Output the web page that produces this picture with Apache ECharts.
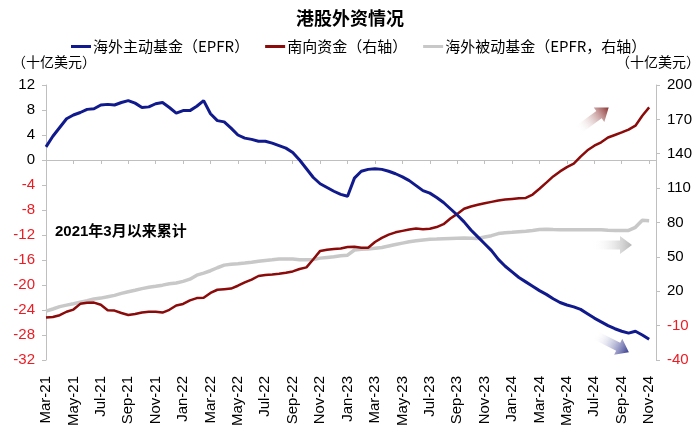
<!DOCTYPE html>
<html>
<head>
<meta charset="utf-8">
<title>港股外资情况</title>
<script src="https://cdn.jsdelivr.net/npm/echarts@6/dist/echarts.min.js"></script>
<style>
  html, body { margin: 0; padding: 0; background: #fff; }
  #main { width: 700px; height: 429px; }
</style>
</head>
<body>
<div id="main"></div>
<script>
// half-month points, 2021-03-01 .. 2024-11-15
var monthNames = ['Jan','Feb','Mar','Apr','May','Jun','Jul','Aug','Sep','Oct','Nov','Dec'];
var dates = [];
for (var m = 2; m <= 2 + 44; m++) {
  var y = 2021 + Math.floor(m / 12), mm = m % 12;
  dates.push(monthNames[mm] + '-' + String(y).slice(2) + '|01');
  dates.push(monthNames[mm] + '-' + String(y).slice(2) + '|15');
}
dates = dates.slice(0, 90);

// 海外主动基金（EPFR）, left axis
var activeFunds = [
  2.1, 3.8, 5.2, 6.6, 7.2, 7.6, 8.1, 8.2, 8.8, 8.9,
  8.8, 9.2, 9.5, 9.1, 8.4, 8.5, 9.0, 9.2, 8.4, 7.5,
  7.9, 7.9, 8.6, 9.5, 7.4, 6.3, 6.1, 5.1, 4.0, 3.5,
  3.3, 3.0, 3.0, 2.7, 2.3, 1.9, 1.2, 0.0, -1.4, -2.8,
  -3.8, -4.4, -5.0, -5.5, -5.8, -2.9, -1.8, -1.5, -1.4, -1.5,
  -1.8, -2.2, -2.7, -3.3, -4.1, -4.9, -5.3, -6.0, -6.8, -7.8,
  -8.8, -9.9, -11.2, -12.3, -13.4, -14.5, -15.9, -17.0, -17.9, -18.8,
  -19.5, -20.2, -20.9, -21.5, -22.2, -22.8, -23.2, -23.5, -23.9, -24.6,
  -25.3, -25.9, -26.5, -27.0, -27.4, -27.7, -27.4, -28.0, -28.7, null
];

// 南向资金（右轴）
var southbound = [
  -3.0, -2.5, -0.9, 2.1, 4.0, 9.0, 10.0, 10.1, 8.2, 3.5,
  3.1, 1.0, -0.7, 0.2, 1.5, 2.1, 2.1, 1.4, 3.8, 7.6,
  8.9, 12.0, 14.0, 14.3, 18.5, 21.3, 21.8, 22.3, 24.8, 27.7,
  30.2, 33.3, 34.2, 34.6, 35.2, 36.1, 37.3, 39.4, 40.8, 47.9,
  55.2, 56.2, 56.8, 57.3, 58.6, 58.8, 58.0, 58.0, 63.0, 66.6,
  69.4, 71.4, 72.7, 73.8, 74.7, 74.2, 74.6, 76.0, 78.5, 83.5,
  87.5, 92.0, 94.0, 95.5, 96.8, 98.0, 99.2, 100.0, 100.6, 101.2,
  101.4, 104.4, 109.5, 114.8, 120.2, 124.6, 128.3, 131.3, 137.5, 143.0,
  147.0, 150.0, 154.2, 156.4, 158.6, 161.1, 164.5, 173.2, 180.5, null
];

// 海外被动基金（EPFR，右轴）
var passiveFunds = [
  2.6, 4.5, 6.6, 7.9, 9.1, 10.4, 11.7, 13.3, 14.0, 15.2,
  16.4, 18.1, 19.6, 20.8, 22.3, 23.4, 24.3, 25.3, 26.6, 27.2,
  28.6, 30.5, 34.0, 35.8, 37.9, 40.5, 42.8, 43.5, 44.0, 44.6,
  45.3, 46.1, 46.8, 47.4, 48.1, 48.1, 48.1, 47.5, 47.4, 47.7,
  48.9, 49.5, 50.1, 50.9, 51.5, 56.0, 56.6, 56.8, 57.5, 58.2,
  59.5, 60.8, 62.0, 63.2, 64.0, 64.8, 65.3, 65.5, 65.9, 66.1,
  66.3, 66.5, 66.3, 66.0, 67.3, 68.5, 70.3, 71.0, 71.4, 71.9,
  72.4, 73.0, 73.8, 74.2, 73.9, 73.7, 73.7, 73.7, 73.7, 73.7,
  73.7, 73.6, 73.3, 73.1, 73.1, 73.1, 75.8, 82.0, 81.6, null
];

var leftTicks = { min: -32, max: 12, step: 4 };
var rightTicks = { min: -40, max: 200, step: 30 };

var RED = '#ec1c24';
var AXIS_GRAY = '#bfbfbf';

function arrow(x, y, rot, len, color) {
  var w = 9, H = 9, h = 12;
  return {
    type: 'polygon',
    x: x, y: y, rotation: rot,
    shape: { points: [[0, -w / 2], [len - h, -w / 2], [len - h, -H], [len, 0], [len - h, H], [len - h, w / 2], [0, w / 2]] },
    style: {
      fill: new echarts.graphic.LinearGradient(0, 0, 1, 0, [
        { offset: 0, color: 'rgba(255,255,255,0)' },
        { offset: 1, color: color }
      ])
    },
    z: 10
  };
}

var chart = echarts.init(document.getElementById('main'));
var option = {
  animation: false,
  textStyle: { fontFamily: '"Liberation Sans", "Noto Sans CJK SC", sans-serif' },
  title: {
    text: '港股外资情况',
    left: 'center', top: 9, padding: 0,
    textStyle: { fontSize: 18, fontWeight: 'bold', color: '#000', fontFamily: '"Noto Sans CJK SC"' }
  },
  legend: {
    top: 39, left: 71, padding: 0,
    itemWidth: 20, itemHeight: 3, itemGap: 16,
    icon: 'rect',
    textStyle: { fontSize: 15, color: '#000', fontFamily: '"Noto Sans CJK SC"', padding: [0, 0, 0, -3] },
    data: ['海外主动基金（EPFR）', '南向资金（右轴）', '海外被动基金（EPFR，右轴）']
  },
  grid: { left: 46, right: 44, top: 85, bottom: 62 },
  xAxis: [
    {
      type: 'category', data: dates, boundaryGap: false, position: 'bottom',
      axisLine: { show: false, onZero: false }, axisTick: { show: false },
      axisLabel: {
        rotate: 90, margin: 16, fontSize: 15, color: '#000',
        interval: function (i) { return i % 4 === 0; },
        formatter: function (v) { return v.split('|')[0]; }
      }
    },
    {
      type: 'category', data: dates, boundaryGap: false, position: 'bottom',
      axisLine: { show: true, onZero: true, onZeroAxisIndex: 0, lineStyle: { color: AXIS_GRAY, width: 1 } },
      axisTick: { show: true, length: 4, interval: function (i) { return i % 4 === 0; }, lineStyle: { color: AXIS_GRAY } },
      axisLabel: { show: false }
    }
  ],
  yAxis: [
    {
      type: 'value', position: 'left',
      min: leftTicks.min, max: leftTicks.max, interval: leftTicks.step,
      axisLine: { show: true, onZero: false, lineStyle: { color: AXIS_GRAY } },
      axisTick: { show: true, length: 4, lineStyle: { color: AXIS_GRAY } },
      splitLine: { show: false },
      axisLabel: {
        fontSize: 15, margin: 11,
        color: function (v) { return Number(v) < 0 ? RED : '#000'; }
      }
    },
    {
      type: 'value', position: 'right',
      min: rightTicks.min, max: rightTicks.max, interval: rightTicks.step,
      axisLine: { show: true, onZero: false, lineStyle: { color: AXIS_GRAY } },
      axisTick: { show: true, length: 4, lineStyle: { color: AXIS_GRAY } },
      splitLine: { show: false },
      axisLabel: {
        fontSize: 15, margin: 11,
        color: function (v) { return Number(v) < 0 ? RED : '#000'; }
      }
    }
  ],
  series: [
    {
      name: '海外被动基金（EPFR，右轴）', type: 'line', yAxisIndex: 1, xAxisIndex: 0,
      data: passiveFunds, symbol: 'none', color: '#c8c8c8',
      lineStyle: { width: 3.5, color: '#c8c8c8' }
    },
    {
      name: '南向资金（右轴）', type: 'line', yAxisIndex: 1, xAxisIndex: 0,
      data: southbound, symbol: 'none', color: '#8b0a0a',
      lineStyle: { width: 2.5, color: '#8b0a0a' }
    },
    {
      name: '海外主动基金（EPFR）', type: 'line', yAxisIndex: 0, xAxisIndex: 0,
      data: activeFunds, symbol: 'none', color: '#101a8c',
      lineStyle: { width: 3, color: '#101a8c' }
    }
  ],
  graphic: [
    { type: 'text', left: 12, top: 55, style: { text: '（十亿美元）', fill: '#000', font: '14px "Noto Sans CJK SC"' } },
    { type: 'text', right: 0, top: 55, style: { text: '（十亿美元）', fill: '#000', font: '14px "Noto Sans CJK SC"' } },
    { type: 'text', left: 55, top: 224, style: { text: '2021年3月以来累计', fill: '#000', font: 'bold 15px "Liberation Sans", "Noto Sans CJK SC"' } },
    arrow(578, 130, 0.63, 38, '#8b3232'),
    arrow(592, 245, 0, 40, '#b5b5b5'),
    arrow(595, 335, -0.47, 38, '#353a8e')
  ]
};
chart.setOption(option);
</script>
</body>
</html>
